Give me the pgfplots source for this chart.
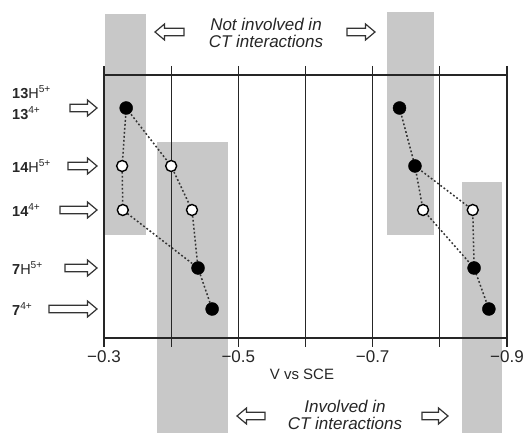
\documentclass[border=0pt]{standalone}
\usepackage{fontspec}
\setmainfont{Liberation Sans}
\usepackage{pgfplots}
\pgfplotsset{compat=1.18}
\definecolor{band}{RGB}{200,200,200}
\newcommand{\rarrow}[3]{\draw[line width=1.2pt, draw=black!80, fill=white] ({#1-#3},{#2-3.8}) -- ({#1-9.5},{#2-3.8}) -- ({#1-9.5},{#2-8}) -- (#1,#2) -- ({#1-9.5},{#2+8}) -- ({#1-9.5},{#2+3.8}) -- ({#1-#3},{#2+3.8}) -- cycle;}
\newcommand{\larrow}[3]{\draw[line width=1.2pt, draw=black!80, fill=white] (#1,#2) -- ({#1+9.5},{#2+8}) -- ({#1+9.5},{#2+3.8}) -- ({#1+#3},{#2+3.8}) -- ({#1+#3},{#2-3.8}) -- ({#1+9.5},{#2-3.8}) -- ({#1+9.5},{#2-8}) -- cycle;}
\begin{document}
\begin{tikzpicture}[x=1pt,y=1pt]
\begin{axis}[
  at={(104pt,95pt)}, anchor=south west,
  scale only axis, width=403pt, height=263pt,
  set layers, clip=false,
  xmin=-0.9, xmax=-0.3, x dir=reverse,
  ymin=0, ymax=263,
  xtick={-0.3,-0.4,-0.5,-0.6,-0.7,-0.8,-0.9},
  xticklabels={−0.3,,−0.5,,−0.7,,−0.9},
  ytick=\empty,
  xtick pos=both, xticklabel pos=bottom,
  tick align=outside, major tick length=9pt,
  xmajorgrids, grid style={black!85, line width=1.1pt},
  axis line style={black!85, line width=1.2pt},
  every tick/.style={black!85, line width=1.1pt},
  ticklabel style={font=\fontsize{17}{17}\selectfont, text=black!85},
]
\begin{pgfonlayer}{axis background}
\fill[band] (axis cs:-0.302,324) rectangle (axis cs:-0.362,103);
\fill[band] (axis cs:-0.379,196) rectangle (axis cs:-0.485,-95);
\fill[band] (axis cs:-0.721,326) rectangle (axis cs:-0.791,103);
\fill[band] (axis cs:-0.833,156) rectangle (axis cs:-0.893,-95);
\end{pgfonlayer}
\begin{pgfonlayer}{axis grid}
\draw[black!85, line width=1.1pt] (axis cs:-0.3,263) -- (axis cs:-0.3,271);
\draw[black!85, line width=1.1pt] (axis cs:-0.4,263) -- (axis cs:-0.4,271);
\draw[black!85, line width=1.1pt] (axis cs:-0.5,263) -- (axis cs:-0.5,271);
\draw[black!85, line width=1.1pt] (axis cs:-0.6,263) -- (axis cs:-0.6,271);
\draw[black!85, line width=1.1pt] (axis cs:-0.7,263) -- (axis cs:-0.7,271);
\draw[black!85, line width=1.1pt] (axis cs:-0.8,263) -- (axis cs:-0.8,271);
\draw[black!85, line width=1.1pt] (axis cs:-0.9,263) -- (axis cs:-0.9,271);
\end{pgfonlayer}
% connecting dotted paths
\addplot[black!80, line width=1.5pt, dash pattern=on 1.8pt off 2.2pt] coordinates {(-0.333,230) (-0.327,172) (-0.328,128) (-0.440,70) (-0.461,29)};
\addplot[black!80, line width=1.5pt, dash pattern=on 1.8pt off 2.2pt] coordinates {(-0.333,230) (-0.400,172) (-0.431,128) (-0.440,70)};
\addplot[black!80, line width=1.5pt, dash pattern=on 1.8pt off 2.2pt] coordinates {(-0.740,230) (-0.763,172) (-0.775,128) (-0.851,70) (-0.873,29)};
\addplot[black!80, line width=1.5pt, dash pattern=on 1.8pt off 2.2pt] coordinates {(-0.763,172) (-0.849,128) (-0.851,70)};
% filled markers
\addplot[only marks, mark=*, mark size=6.5pt, mark options={fill=black, draw=black}] coordinates {(-0.333,230) (-0.440,70) (-0.461,29) (-0.740,230) (-0.763,172) (-0.851,70) (-0.873,29)};
% open markers
\addplot[only marks, mark=*, mark size=5.5pt, mark options={fill=white, draw=black, line width=1.4pt}] coordinates {(-0.327,172) (-0.400,172) (-0.328,128) (-0.431,128) (-0.775,128) (-0.849,128)};
\end{axis}
% row labels
\begin{scope}[every node/.style={anchor=west, inner sep=0pt, font=\fontsize{14.5}{14.5}\selectfont, text=black!85}]
\node at (12,341) {\textbf{13}H\textsuperscript{5+}};
\node at (12,320) {\textbf{13}\textsuperscript{4+}};
\node at (12,267) {\textbf{14}H\textsuperscript{5+}};
\node at (12,223) {\textbf{14}\textsuperscript{4+}};
\node at (12,165) {\textbf{7}H\textsuperscript{5+}};
\node at (12,124) {\textbf{7}\textsuperscript{4+}};
\end{scope}
\rarrow{97}{325}{27}
\rarrow{97}{267}{29}
\rarrow{97}{223}{37}
\rarrow{97}{165}{32}
\rarrow{97}{124}{48}
% x label
\node[font=\fontsize{15}{15}\selectfont, text=black!85] at (302,59) {V vs SCE};
% top annotation
\node[align=center, font=\itshape\fontsize{17}{16.5}\selectfont, text=black!85] at (266,400) {Not involved in\\CT interactions};
\larrow{155}{401}{29}
\rarrow{375}{401}{28}
% bottom annotation
\node[align=center, font=\itshape\fontsize{17}{16.5}\selectfont, text=black!85] at (345,18) {Involved in\\CT interactions};
\larrow{237}{17}{28}
\rarrow{448}{17}{26}
\pgfresetboundingbox
\useasboundingbox (0,0) rectangle (524,433);
\end{tikzpicture}
\end{document}
